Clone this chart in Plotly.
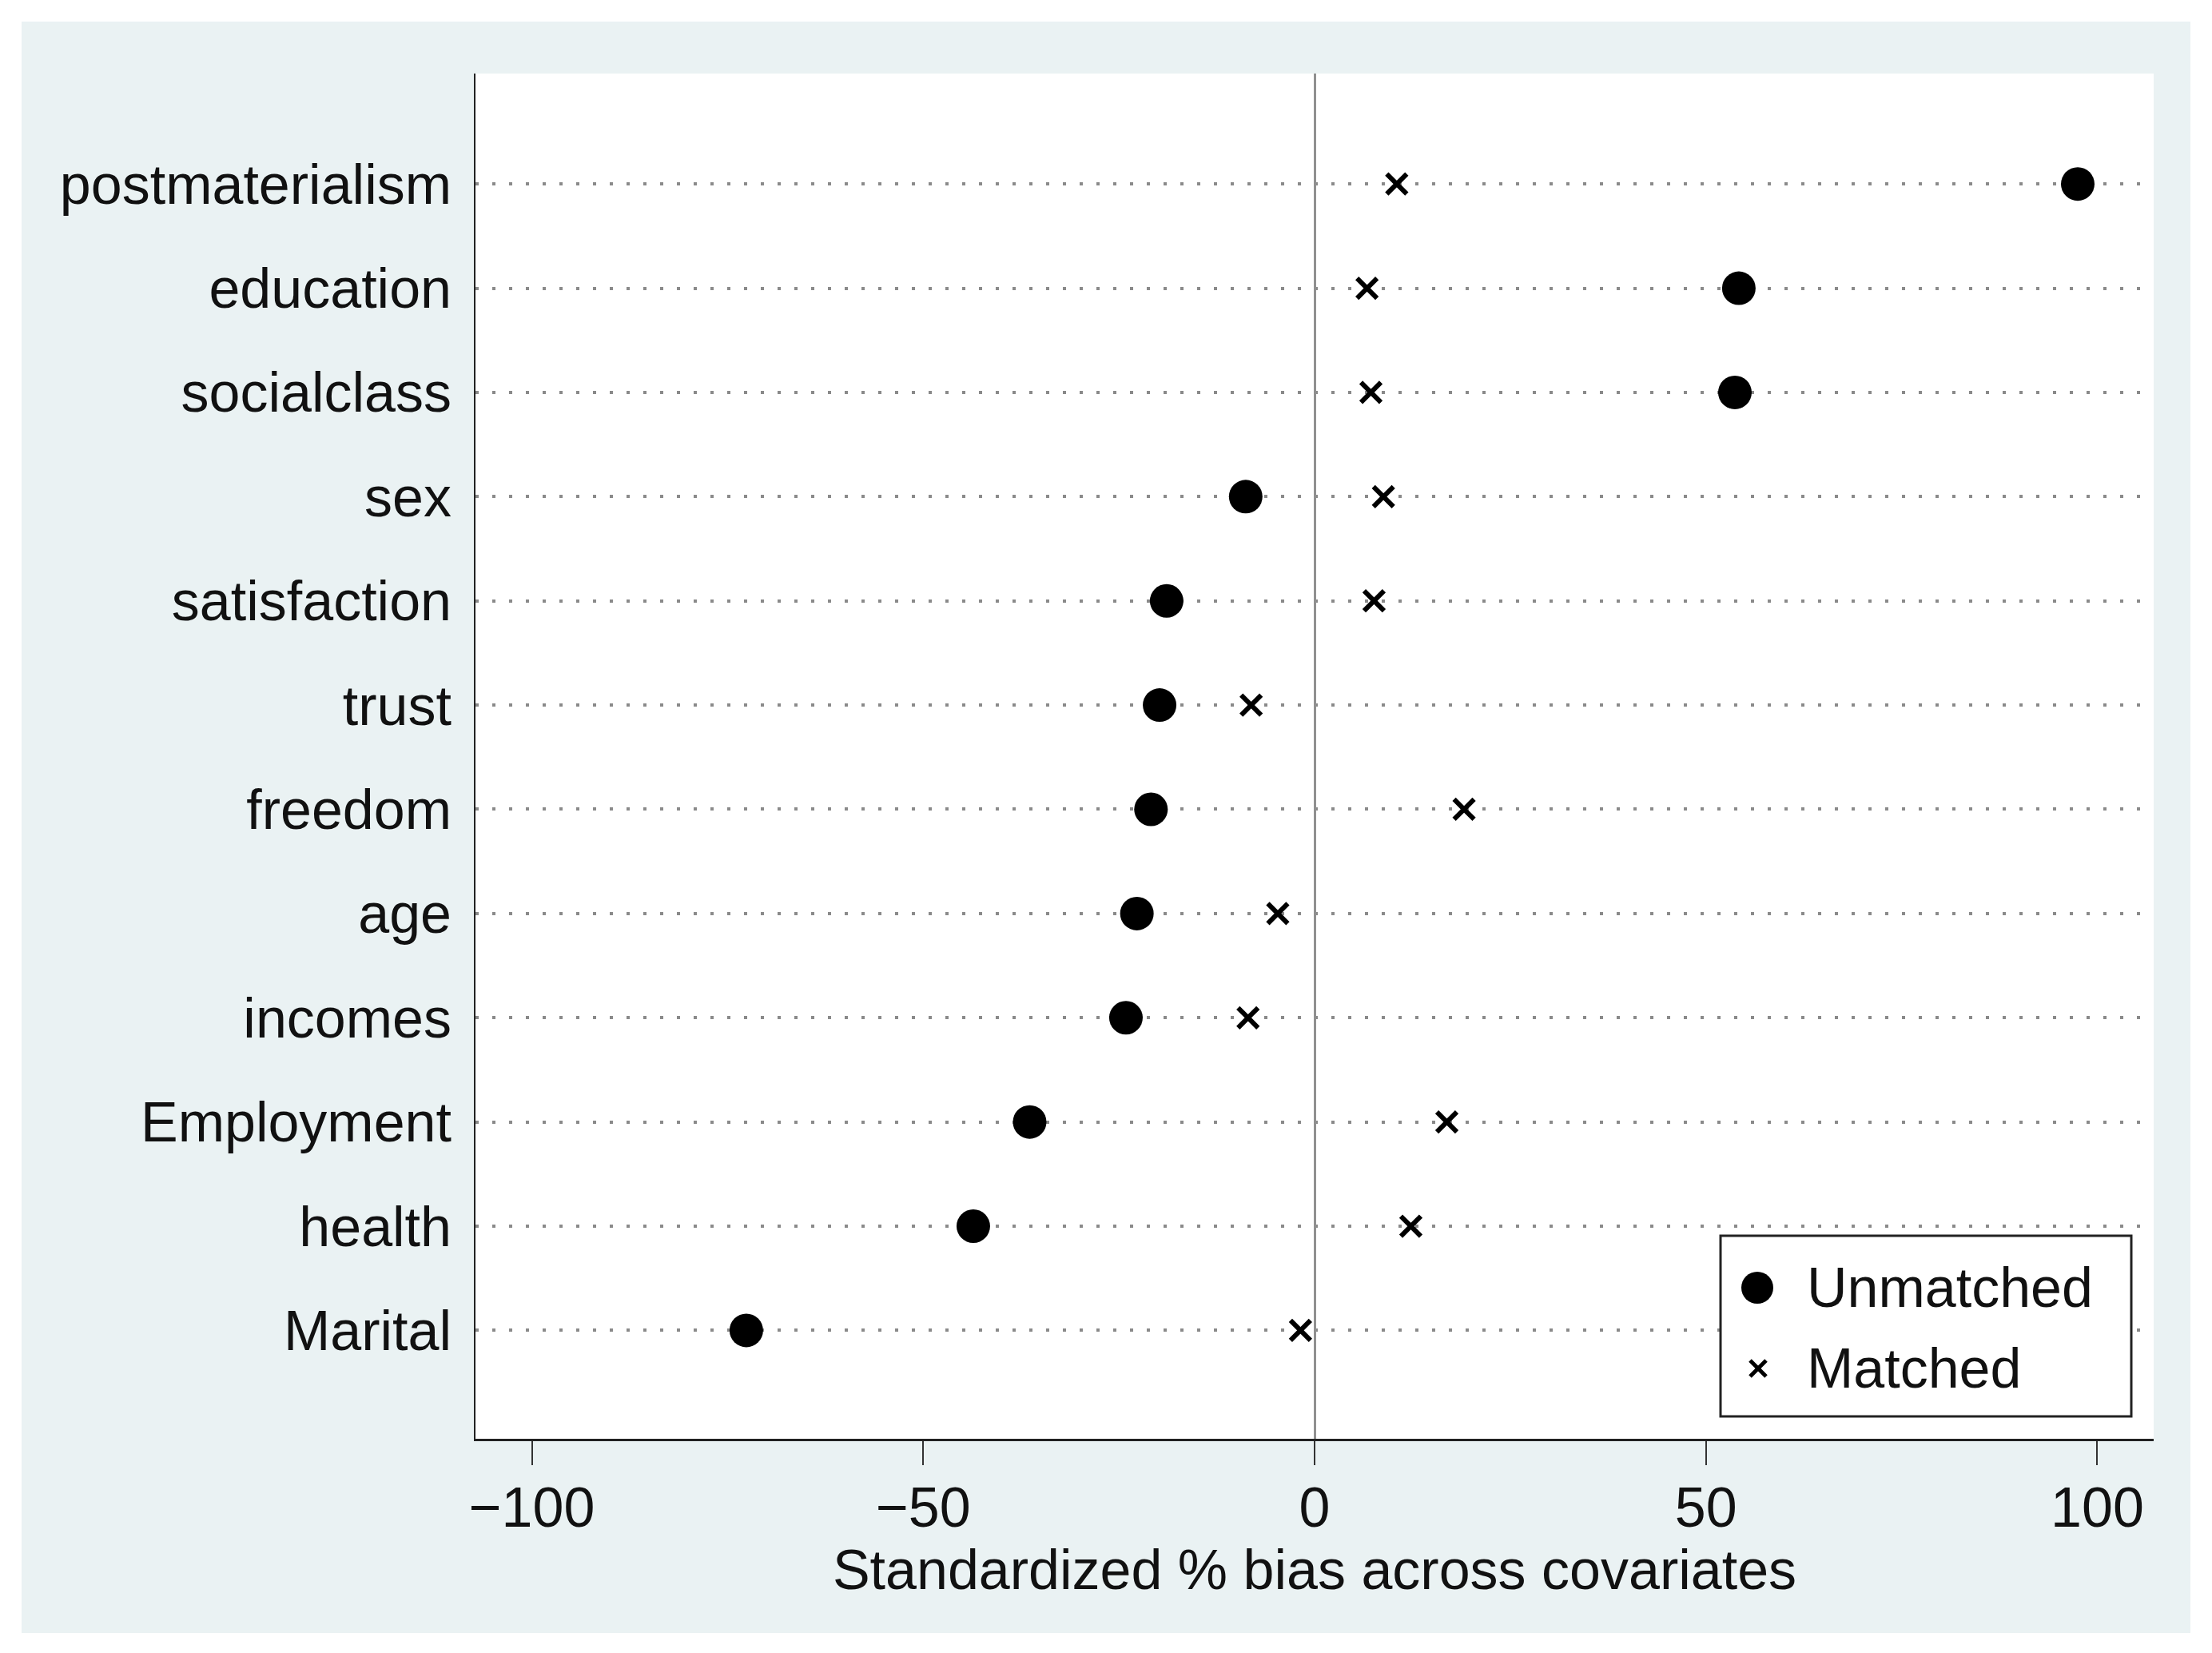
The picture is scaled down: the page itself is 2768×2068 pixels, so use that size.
import plotly.graph_objects as go

# Data (categories top-to-bottom as shown)
covariates = ["postmaterialism", "education", "socialclass", "sex", "satisfaction",
              "trust", "freedom", "age", "incomes", "Employment", "health", "Marital"]
unmatched = [97.5, 54.2, 53.7, -8.8, -18.9, -19.8, -20.9, -22.7, -24.1, -36.4, -43.6, -72.6]
matched = [10.5, 6.7, 7.2, 8.8, 7.6, -8.1, 19.1, -4.7, -8.5, 16.9, 12.3, -1.8]
series_names = ["Unmatched", "Matched"]
x_ticks = [-100, -50, 0, 50, 100]
x_title = "Standardized % bias across covariates"

W, H = 2768, 2068
L, R, T, B = 587, 81, 84, 276
FONT = "Liberation Sans, Arial, sans-serif"
BG = "#EAF2F3"
TXT = "#111111"

fig = go.Figure()
fig.add_trace(go.Scatter(
    x=unmatched, y=covariates, mode="markers", name=series_names[0],
    marker=dict(symbol="circle", size=42, color="black"),
    showlegend=False,
))
fig.add_trace(go.Scatter(
    x=matched, y=covariates, mode="markers", name=series_names[1],
    marker=dict(symbol="x-thin-open", size=25, color="black",
                line=dict(width=6, color="black")),
    showlegend=False,
))

pw = W - L - R
ph = H - T - B


def px(xp):
    return (xp - L) / pw


def py(yp):
    return (H - B - yp) / ph


# light blue graph region, then white plot region
fig.add_shape(type="rect", xref="paper", yref="paper", layer="below",
              x0=px(19), x1=px(2733), y0=py(2035), y1=py(19),
              fillcolor=BG, line=dict(width=0))
fig.add_shape(type="rect", xref="paper", yref="paper", layer="below",
              x0=0, x1=1, y0=0, y1=1,
              fillcolor="white", line=dict(width=0))

# legend box (drawn manually so the symbols keep the plot's marker size)
fig.add_shape(type="rect", xref="paper", yref="paper", layer="above",
              x0=px(2145), x1=px(2659), y0=py(1764), y1=py(1538),
              fillcolor="white", line=dict(width=3, color="#222222"))
# circle symbol
cx, cy, r = 2191, 1603, 20
fig.add_shape(type="circle", xref="paper", yref="paper", layer="above",
              x0=px(cx - r), x1=px(cx + r), y0=py(cy + r), y1=py(cy - r),
              fillcolor="black", line=dict(width=0))
# x symbol
mx, my, h = 2192, 1704, 10
fig.add_shape(type="line", xref="paper", yref="paper", layer="above",
              x0=px(mx - h), x1=px(mx + h), y0=py(my - h), y1=py(my + h),
              line=dict(width=5, color="black"))
fig.add_shape(type="line", xref="paper", yref="paper", layer="above",
              x0=px(mx - h), x1=px(mx + h), y0=py(my + h), y1=py(my - h),
              line=dict(width=5, color="black"))
for name, yy in zip(series_names, [1603, 1704]):
    fig.add_annotation(xref="paper", yref="paper", x=px(2251), y=py(yy),
                       xanchor="left", yanchor="middle", showarrow=False,
                       text=name, font=dict(size=70, color=TXT, family=FONT))

fig.update_layout(
    width=W, height=H,
    margin=dict(l=L, r=R, t=T, b=B, pad=0),
    paper_bgcolor="white", plot_bgcolor="white",
    font=dict(family=FONT, size=70, color=TXT),
    showlegend=False,
    xaxis=dict(
        range=[-107.2, 107.2],
        tickvals=x_ticks,
        ticks="outside", ticklen=30, tickwidth=2, tickcolor="#333333",
        ticklabelstandoff=-7,
        showgrid=False,
        zeroline=True, zerolinecolor="#909090", zerolinewidth=3,
        showline=True, linecolor="#222222", linewidth=3,
        title=dict(text=x_title, standoff=0, font=dict(size=70)),
        tickfont=dict(size=70),
    ),
    yaxis=dict(
        type="category",
        categoryorder="array", categoryarray=covariates[::-1],
        range=[-1.04, 12.06],
        showgrid=True, gridcolor="#8a8a8a", gridwidth=4, griddash="4px,17px",
        showline=True, linecolor="#222222", linewidth=2,
        ticks="", ticklabelstandoff=14,
        tickfont=dict(size=70),
        zeroline=False,
    ),
)

fig.write_html("out.html")
